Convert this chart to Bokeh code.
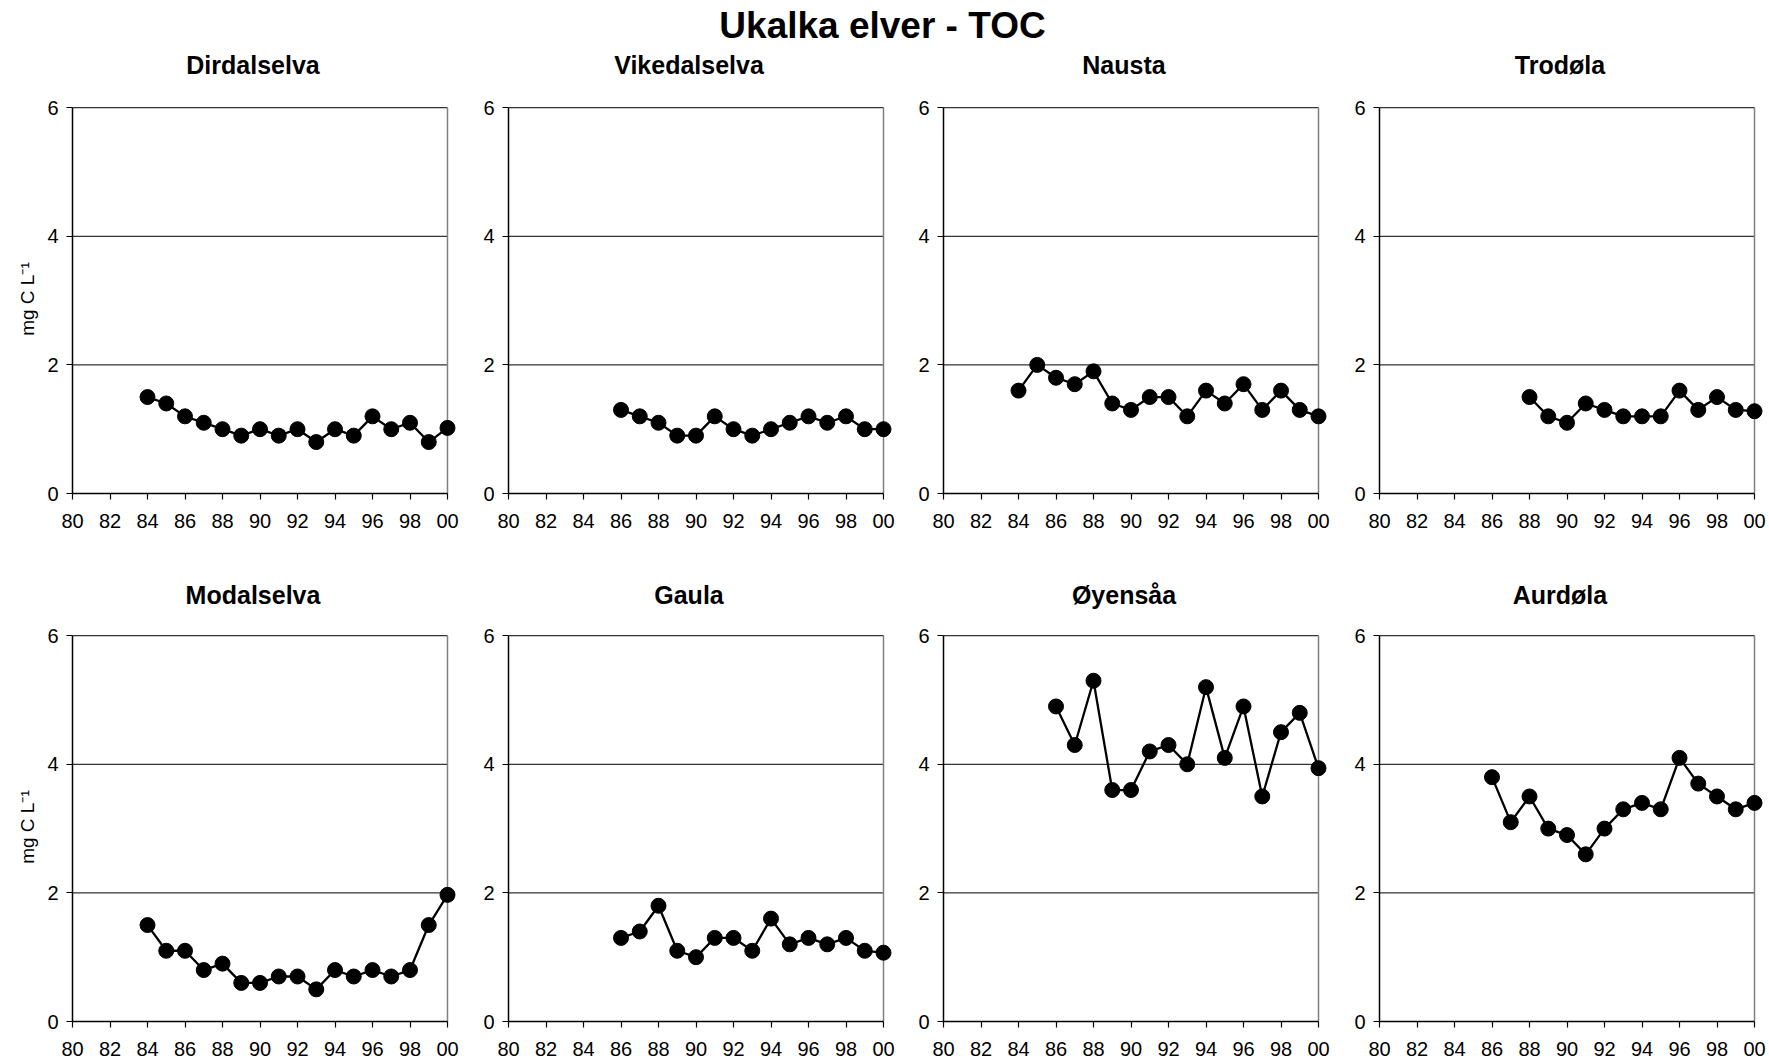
from bokeh.plotting import figure
from bokeh.layouts import column, row
from bokeh.models import Range1d, FixedTicker, Label
from bokeh.embed import file_html
from bokeh.resources import INLINE

# ---------------- data ----------------
main_title = "Ukalka elver - TOC"
y_label = "mg C L\u207b\u00b9"
x_ticks = [1980, 1982, 1984, 1986, 1988, 1990, 1992, 1994, 1996, 1998, 2000]
x_tick_labels = ["80", "82", "84", "86", "88", "90", "92", "94", "96", "98", "00"]
y_ticks = [0, 2, 4, 6]
grid_ticks = [2, 4, 6]

rivers = ["Dirdalselva", "Vikedalselva", "Nausta", "Trodøla",
          "Modalselva", "Gaula", "Øyensåa", "Aurdøla"]

dirdalselva_years = [1984, 1985, 1986, 1987, 1988, 1989, 1990, 1991, 1992, 1993, 1994, 1995, 1996, 1997, 1998, 1999, 2000]
dirdalselva_toc = [1.5, 1.4, 1.2, 1.1, 1.0, 0.9, 1.0, 0.9, 1.0, 0.8, 1.0, 0.9, 1.2, 1.0, 1.1, 0.8, 1.02]

vikedalselva_years = [1986, 1987, 1988, 1989, 1990, 1991, 1992, 1993, 1994, 1995, 1996, 1997, 1998, 1999, 2000]
vikedalselva_toc = [1.3, 1.2, 1.1, 0.9, 0.9, 1.2, 1.0, 0.9, 1.0, 1.1, 1.2, 1.1, 1.2, 1.0, 1.0]

nausta_years = [1984, 1985, 1986, 1987, 1988, 1989, 1990, 1991, 1992, 1993, 1994, 1995, 1996, 1997, 1998, 1999, 2000]
nausta_toc = [1.6, 2.0, 1.8, 1.7, 1.9, 1.4, 1.3, 1.5, 1.5, 1.2, 1.6, 1.4, 1.7, 1.3, 1.6, 1.3, 1.2]

trodola_years = [1988, 1989, 1990, 1991, 1992, 1993, 1994, 1995, 1996, 1997, 1998, 1999, 2000]
trodola_toc = [1.5, 1.2, 1.1, 1.4, 1.3, 1.2, 1.2, 1.2, 1.6, 1.3, 1.5, 1.3, 1.28]

modalselva_years = [1984, 1985, 1986, 1987, 1988, 1989, 1990, 1991, 1992, 1993, 1994, 1995, 1996, 1997, 1998, 1999, 2000]
modalselva_toc = [1.5, 1.1, 1.1, 0.8, 0.9, 0.6, 0.6, 0.7, 0.7, 0.5, 0.8, 0.7, 0.8, 0.7, 0.8, 1.5, 1.97]

gaula_years = [1986, 1987, 1988, 1989, 1990, 1991, 1992, 1993, 1994, 1995, 1996, 1997, 1998, 1999, 2000]
gaula_toc = [1.3, 1.4, 1.8, 1.1, 1.0, 1.3, 1.3, 1.1, 1.6, 1.2, 1.3, 1.2, 1.3, 1.1, 1.07]

oyensaa_years = [1986, 1987, 1988, 1989, 1990, 1991, 1992, 1993, 1994, 1995, 1996, 1997, 1998, 1999, 2000]
oyensaa_toc = [4.9, 4.3, 5.3, 3.6, 3.6, 4.2, 4.3, 4.0, 5.2, 4.1, 4.9, 3.5, 4.5, 4.8, 3.94]

aurdola_years = [1986, 1987, 1988, 1989, 1990, 1991, 1992, 1993, 1994, 1995, 1996, 1997, 1998, 1999, 2000]
aurdola_toc = [3.8, 3.1, 3.5, 3.0, 2.9, 2.6, 3.0, 3.3, 3.4, 3.3, 4.1, 3.7, 3.5, 3.3, 3.4]

series = [
    (dirdalselva_years, dirdalselva_toc),
    (vikedalselva_years, vikedalselva_toc),
    (nausta_years, nausta_toc),
    (trodola_years, trodola_toc),
    (modalselva_years, modalselva_toc),
    (gaula_years, gaula_toc),
    (oyensaa_years, oyensaa_toc),
    (aurdola_years, aurdola_toc),
]

# ---------------- styling / layout ----------------
FONT = "Liberation Sans"
X_PAD = 0.48          # years of room right of 2000 so end markers are not clipped
Y_PAD = 0.05          # room above 6 so the top grid line is fully visible
FRAME_W = 384         # 375 px for 20 years + pad
FRAME_H = 389         # 386 px for 6 units + pad
COL_LEFT = [72, 49, 48, 49]
COL_RIGHT = 3
ROW_TOP = [24, 22]
ROW_BOTTOM = [43, 43]
HEADER_H = [80, 74]
TOTAL_W = sum(COL_LEFT) + 4 * (FRAME_W + COL_RIGHT)
SUB_CENTERS = [252.5, 688.5, 1123.5, 1559.5]


def make_panel(years, vals, col, rowi):
    left = COL_LEFT[col]
    top = ROW_TOP[rowi]
    bottom = ROW_BOTTOM[rowi]
    p = figure(width=left + FRAME_W + COL_RIGHT, height=top + FRAME_H + bottom,
               x_range=Range1d(x_ticks[0], x_ticks[-1] + X_PAD),
               y_range=Range1d(y_ticks[0], y_ticks[-1] + Y_PAD),
               output_backend="svg", toolbar_location=None,
               min_border_left=left, min_border_right=COL_RIGHT,
               min_border_top=top, min_border_bottom=bottom)
    p.background_fill_color = "white"
    p.border_fill_color = "white"
    p.outline_line_color = None
    p.xgrid.visible = False
    p.ygrid.visible = False

    p.xaxis.ticker = FixedTicker(ticks=x_ticks, minor_ticks=[])
    p.xaxis.major_label_overrides = dict(zip(x_ticks, x_tick_labels))
    p.xaxis.bounds = (x_ticks[0], x_ticks[-1])
    p.yaxis.ticker = FixedTicker(ticks=y_ticks, minor_ticks=[])
    p.yaxis.bounds = (y_ticks[0], y_ticks[-1])
    for ax in (p.xaxis, p.yaxis):
        ax.axis_line_color = "black"
        ax.axis_line_width = 1.5
        ax.major_tick_line_color = "black"
        ax.major_tick_line_width = 1.2
        ax.major_tick_out = 6
        ax.major_tick_in = 0
        ax.minor_tick_line_color = None
        ax.major_label_text_font = FONT
        ax.major_label_text_font_size = "20px"
        ax.major_label_text_color = "black"
    p.xaxis.major_label_standoff = 14
    p.yaxis.major_label_standoff = 8
    if col == 0:
        p.yaxis.axis_label = y_label
        p.yaxis.axis_label_text_font = FONT
        p.yaxis.axis_label_text_font_size = "19px"
        p.yaxis.axis_label_text_font_style = "normal"
        p.yaxis.axis_label_text_color = "black"
        p.yaxis.axis_label_standoff = 6

    # horizontal grid lines (2, 4, 6) limited to the 1980-2000 span, gray right border
    p.segment(x0=x_ticks[0], x1=x_ticks[-1], y0=grid_ticks, y1=grid_ticks,
              line_color="black", line_width=1)
    p.segment(x0=x_ticks[-1], x1=x_ticks[-1], y0=y_ticks[0], y1=y_ticks[-1],
              line_color="#808080", line_width=1.5)

    p.line(years, vals, line_color="black", line_width=2.3)
    p.scatter(years, vals, size=15, fill_color="black", line_color="black")
    return p


def make_header(height, texts, with_main):
    h = figure(width=TOTAL_W, height=height, x_range=Range1d(0, TOTAL_W), y_range=Range1d(0, height),
               output_backend="svg", toolbar_location=None,
               x_axis_location=None, y_axis_location=None,
               min_border_left=0, min_border_right=0, min_border_top=0, min_border_bottom=0)
    h.outline_line_color = None
    h.xgrid.visible = False
    h.ygrid.visible = False
    h.background_fill_color = "white"
    h.border_fill_color = "white"
    if with_main:
        h.add_layout(Label(x=882, y=height - 25, text=main_title, text_align="center",
                           text_baseline="alphabetic", text_font=FONT, text_font_size="37px",
                           text_font_style="bold", text_color="black"))
    base = 16
    for cx, t in zip(SUB_CENTERS, texts):
        h.add_layout(Label(x=cx, y=base, text=t, text_align="center", text_baseline="alphabetic",
                           text_font=FONT, text_font_size="25px", text_font_style="bold",
                           text_color="black"))
    return h


panels = []
for i, (yrs, vals) in enumerate(series):
    panels.append(make_panel(yrs, vals, i % 4, i // 4))

header1 = make_header(HEADER_H[0], rivers[:4], True)
header2 = make_header(HEADER_H[1], rivers[4:], False)

layout = column(header1, row(*panels[:4]), header2, row(*panels[4:]))

open("out.html", "w").write(file_html(layout, INLINE))
